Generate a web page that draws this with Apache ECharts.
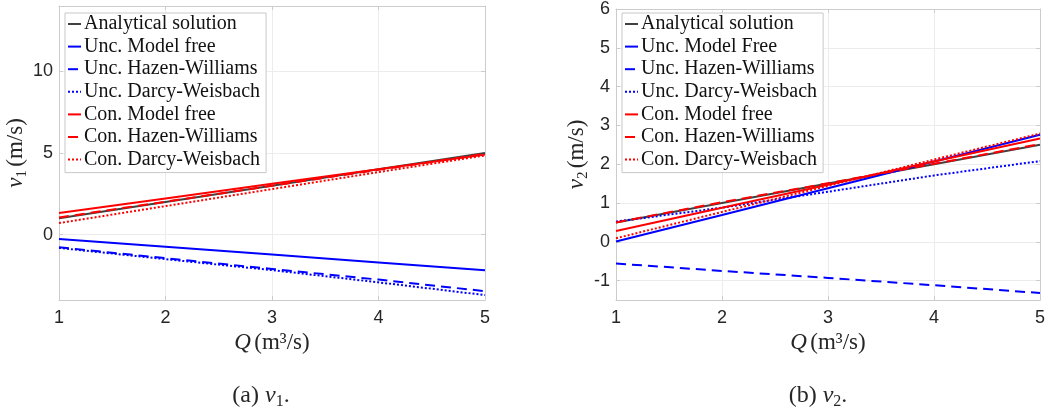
<!DOCTYPE html>
<html>
<head>
<meta charset="utf-8">
<script src="https://cdn.jsdelivr.net/npm/echarts@6/dist/echarts.min.js"></script>
<style>
  html, body { margin: 0; padding: 0; background: #ffffff; }
  #chart { width: 1048px; height: 411px; }
</style>
</head>
<body>
<div id="chart"></div>
<script>
// Flow rate samples Q (m^3/s)
const flow = [1, 2, 3, 4, 5];

// Panel (a): velocity v1 (m/s)
const v1Analytical = [1.0, 2.0, 3.0, 4.0, 5.0];
const v1UncModelFree = [-0.26, -0.74, -1.22, -1.70, -2.18];
const v1UncHazen = [-0.77, -1.44, -2.10, -2.75, -3.46];
const v1UncDarcy = [-0.81, -1.50, -2.17, -2.92, -3.70];
const v1ConModelFree = [1.32, 2.22, 3.12, 4.01, 4.90];
const v1ConHazen = [1.05, 2.02, 3.00, 3.97, 4.95];
const v1ConDarcy = [0.71, 1.75, 2.79, 3.83, 4.85];

// Panel (b): velocity v2 (m/s)
const v2Analytical = [0.5, 1.0, 1.5, 2.0, 2.5];
const v2UncModelFree = [0.01, 0.69, 1.38, 2.07, 2.76];
const v2UncHazen = [-0.56, -0.75, -0.93, -1.12, -1.32];
const v2UncDarcy = [0.52, 0.88, 1.29, 1.71, 2.08];
const v2ConModelFree = [0.28, 0.88, 1.47, 2.07, 2.66];
const v2ConHazen = [0.50, 1.02, 1.51, 2.01, 2.52];
const v2ConDarcy = [0.09, 0.77, 1.44, 2.12, 2.79];

// Tick labels
const xTicks = [1, 2, 3, 4, 5];
const v1Ticks = [0, 5, 10];
const v2Ticks = [-1, 0, 1, 2, 3, 4, 5, 6];

// Legend entries
const namesA = ['Analytical solution', 'Unc. Model free', 'Unc. Hazen-Williams', 'Unc. Darcy-Weisbach',
                'Con. Model free', 'Con. Hazen-Williams', 'Con. Darcy-Weisbach'];
const namesB = ['Analytical solution', 'Unc. Model Free', 'Unc. Hazen-Williams', 'Unc. Darcy-Weisbach',
                'Con. Model free', 'Con. Hazen-Williams', 'Con. Darcy-Weisbach'];

const GRAY = '#404040', BLUE = '#0000ff', RED = '#ff0000';
const DASH = [10, 6], DOT = [2, 2];
const SANS = '"Liberation Sans", Arial, Helvetica, sans-serif';
const SERIF = '"Liberation Serif", "Times New Roman", serif';
const FRAME = '#cccccc', GRID = '#ececec', TEXT = '#262626';

function line(name, values, color, dash, idx) {
  return {
    type: 'line', name: name,
    xAxisIndex: idx, yAxisIndex: idx,
    data: flow.map((q, i) => [q, values[i]]),
    showSymbol: false, symbol: 'none', silent: true, animation: false,
    lineStyle: { color: color, width: 2, type: dash || 'solid' },
    itemStyle: { color: color }
  };
}

const richName = {
  i: { fontFamily: SERIF, fontStyle: 'italic', fontSize: 23, color: TEXT },
  s: { fontFamily: SERIF, fontSize: 15, color: TEXT, padding: [11, 0, 0, 0] },
  n: { fontFamily: SERIF, fontSize: 23, color: TEXT }
};
const richCaption = {
  i: { fontFamily: SERIF, fontStyle: 'italic', fontSize: 24, color: TEXT },
  s: { fontFamily: SERIF, fontSize: 16, color: TEXT, padding: [11, 0, 0, 0] },
  n: { fontFamily: SERIF, fontSize: 24, color: TEXT }
};

function xAxes(gridIndex) {
  return [{
    type: 'value', gridIndex: gridIndex, min: 1, max: 5, interval: 1,
    name: '{i|Q} {n|(m³/s)}', nameLocation: 'middle', nameGap: 28,
    nameTextStyle: { rich: richName },
    axisLine: { show: true, onZero: false, lineStyle: { color: FRAME, width: 1 } },
    axisTick: { show: true, inside: true, length: 4, lineStyle: { color: FRAME } },
    axisLabel: { fontFamily: SANS, fontSize: 18, color: TEXT, margin: 9 },
    splitLine: { show: true, lineStyle: { color: GRID, width: 1 } }
  }, {
    type: 'value', gridIndex: gridIndex, min: 1, max: 5, interval: 1, position: 'top',
    axisLine: { show: true, onZero: false, lineStyle: { color: FRAME, width: 1 } },
    axisTick: { show: true, inside: true, length: 4, lineStyle: { color: FRAME } },
    axisLabel: { show: false }, splitLine: { show: false }
  }];
}

function yAxes(gridIndex, min, max, ticks, sub, gap) {
  return [{
    type: 'value', gridIndex: gridIndex, min: min, max: max,
    name: '{i|v}{s|' + sub + '} {n|(m/s)}', nameLocation: 'middle', nameGap: gap,
    nameTextStyle: { rich: richName },
    axisLine: { show: true, onZero: false, lineStyle: { color: FRAME, width: 1 } },
    axisTick: { show: true, inside: true, length: 4, customValues: ticks, lineStyle: { color: FRAME } },
    axisLabel: { fontFamily: SANS, fontSize: 18, color: TEXT, margin: 6, customValues: ticks },
    splitLine: { show: true, lineStyle: { color: GRID, width: 1 } }
  }, {
    type: 'value', gridIndex: gridIndex, min: min, max: max, position: 'right',
    axisLine: { show: true, onZero: false, lineStyle: { color: FRAME, width: 1 } },
    axisTick: { show: true, inside: true, length: 4, customValues: ticks, lineStyle: { color: FRAME } },
    axisLabel: { show: false }, splitLine: { show: false }
  }];
}

function legend(names, left) {
  return {
    orient: 'vertical', left: left, top: 13, data: names, selectedMode: false,
    itemWidth: 13, itemHeight: 10, itemGap: 2.6,
    padding: [1, 6, 3, 2],
    backgroundColor: '#ffffff', borderColor: '#c8c8c8', borderWidth: 1, borderRadius: 0,
    // line-only keys: no marker symbol
    itemStyle: { opacity: 0 },
    textStyle: { fontFamily: SERIF, fontSize: 20, lineHeight: 20, color: '#111111', padding: [0, 0, 0, -2] },
    z: 10
  };
}

const xs = xAxes(0).concat(xAxes(1));
const ys = yAxes(0, -4, 14, v1Ticks, '1', 28).concat(yAxes(1, -1.5, 6, v2Ticks, '2', 25));

function seriesFor(idx, names, vals) {
  const styles = [[GRAY, null], [BLUE, null], [BLUE, DASH], [BLUE, DOT], [RED, null], [RED, DASH], [RED, DOT]];
  return names.map((n, k) => line(n, vals[k], styles[k][0], styles[k][1], idx));
}

const option = {
  backgroundColor: '#ffffff',
  animation: false,
  grid: [
    { left: 59, top: 6, width: 426, height: 294, containLabel: false },
    { left: 616, top: 6, width: 426, height: 294, containLabel: false }
  ],
  xAxis: xs,
  yAxis: ys,
  legend: [legend(namesA, 65), legend(namesB, 622)],
  series: seriesFor(0, namesA, [v1Analytical, v1UncModelFree, v1UncHazen, v1UncDarcy, v1ConModelFree, v1ConHazen, v1ConDarcy])
    .concat(seriesFor(2, namesB, [v2Analytical, v2UncModelFree, v2UncHazen, v2UncDarcy, v2ConModelFree, v2ConHazen, v2ConDarcy])),
  graphic: [
    { type: 'text', x: 261, y: 396, silent: true,
      style: { text: '{n|(a)} {i|v}{s|1}{n|.}', align: 'center', verticalAlign: 'middle',
               fontFamily: SERIF, fontSize: 24, fill: TEXT, rich: richCaption } },
    { type: 'text', x: 818, y: 396, silent: true,
      style: { text: '{n|(b)} {i|v}{s|2}{n|.}', align: 'center', verticalAlign: 'middle',
               fontFamily: SERIF, fontSize: 24, fill: TEXT, rich: richCaption } }
  ]
};

echarts.init(document.getElementById('chart'), null, { renderer: 'canvas' }).setOption(option);
</script>
</body>
</html>
